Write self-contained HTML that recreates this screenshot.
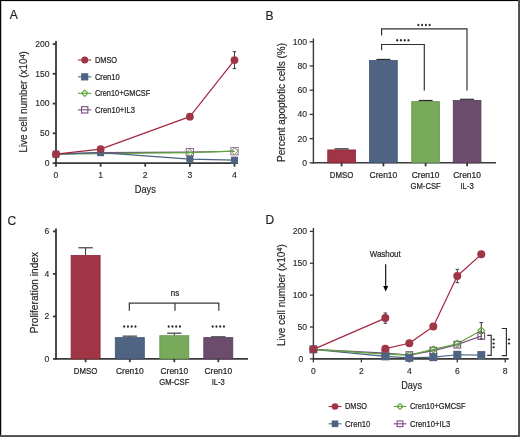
<!DOCTYPE html>
<html><head><meta charset="utf-8"><style>
html,body{margin:0;padding:0;background:#fff;}
svg{display:block;font-family:"Liberation Sans", sans-serif;will-change:transform;}
</style></head><body>
<svg width="520" height="437" viewBox="0 0 520 437">
<rect x="0" y="0" width="520" height="437" fill="#fff"/>
<text x="9.80" y="18.75" font-size="12" text-anchor="start" fill="#231f20" stroke="#231f20" stroke-width="0.18">A</text>
<line x1="56.00" y1="41.04" x2="56.00" y2="163.90" stroke="#383838" stroke-width="1.8"/>
<line x1="55.20" y1="163.10" x2="237.90" y2="163.10" stroke="#383838" stroke-width="1.8"/>
<line x1="52.70" y1="163.10" x2="56.00" y2="163.10" stroke="#383838" stroke-width="1.8"/>
<text x="49.60" y="166.00" font-size="8.6" text-anchor="end" fill="#231f20" stroke="#231f20" stroke-width="0.12">0</text>
<line x1="52.70" y1="133.33" x2="56.00" y2="133.33" stroke="#383838" stroke-width="1.8"/>
<text x="49.60" y="136.23" font-size="8.6" text-anchor="end" fill="#231f20" stroke="#231f20" stroke-width="0.12">50</text>
<line x1="52.70" y1="103.57" x2="56.00" y2="103.57" stroke="#383838" stroke-width="1.8"/>
<text x="49.60" y="106.47" font-size="8.6" text-anchor="end" fill="#231f20" stroke="#231f20" stroke-width="0.12">100</text>
<line x1="52.70" y1="73.80" x2="56.00" y2="73.80" stroke="#383838" stroke-width="1.8"/>
<text x="49.60" y="76.70" font-size="8.6" text-anchor="end" fill="#231f20" stroke="#231f20" stroke-width="0.12">150</text>
<line x1="52.70" y1="44.04" x2="56.00" y2="44.04" stroke="#383838" stroke-width="1.8"/>
<text x="49.60" y="46.94" font-size="8.6" text-anchor="end" fill="#231f20" stroke="#231f20" stroke-width="0.12">200</text>
<line x1="56.00" y1="163.10" x2="56.00" y2="166.70" stroke="#383838" stroke-width="1.8"/>
<text x="56.00" y="177.60" font-size="8.6" text-anchor="middle" fill="#231f20" stroke="#231f20" stroke-width="0.12">0</text>
<line x1="100.62" y1="163.10" x2="100.62" y2="166.70" stroke="#383838" stroke-width="1.8"/>
<text x="100.62" y="177.60" font-size="8.6" text-anchor="middle" fill="#231f20" stroke="#231f20" stroke-width="0.12">1</text>
<line x1="145.24" y1="163.10" x2="145.24" y2="166.70" stroke="#383838" stroke-width="1.8"/>
<text x="145.24" y="177.60" font-size="8.6" text-anchor="middle" fill="#231f20" stroke="#231f20" stroke-width="0.12">2</text>
<line x1="189.86" y1="163.10" x2="189.86" y2="166.70" stroke="#383838" stroke-width="1.8"/>
<text x="189.86" y="177.60" font-size="8.6" text-anchor="middle" fill="#231f20" stroke="#231f20" stroke-width="0.12">3</text>
<line x1="234.48" y1="163.10" x2="234.48" y2="166.70" stroke="#383838" stroke-width="1.8"/>
<text x="234.48" y="177.60" font-size="8.6" text-anchor="middle" fill="#231f20" stroke="#231f20" stroke-width="0.12">4</text>
<text x="134.80" y="192.60" font-size="10.6" text-anchor="start" fill="#231f20" stroke="#231f20" stroke-width="0.18" textLength="21.00" lengthAdjust="spacingAndGlyphs">Days</text>
<text x="27.10" y="152.60" font-size="10.8" text-anchor="start" fill="#231f20" stroke="#231f20" stroke-width="0.18" textLength="101.40" lengthAdjust="spacingAndGlyphs" transform="rotate(-90 27.10 152.60)">Live cell number (x10<tspan font-size="8" dy="-2.5">4</tspan><tspan dy="2.5">)</tspan></text>
<polyline points="56.00,154.17 100.62,152.62 189.86,152.15 234.48,151.25" fill="none" stroke="#7b4c80" stroke-width="1.2" stroke-linejoin="round"/>
<polyline points="56.00,154.17 100.62,153.58 189.86,152.62 234.48,151.19" fill="none" stroke="#5da83a" stroke-width="1.2" stroke-linejoin="round"/>
<polyline points="56.00,154.17 100.62,152.68 189.86,159.17 234.48,160.18" fill="none" stroke="#4a6384" stroke-width="1.2" stroke-linejoin="round"/>
<rect x="52.50" y="150.67" width="7.00" height="7.00" fill="#4f6383"/>
<rect x="97.12" y="149.18" width="7.00" height="7.00" fill="#4f6383"/>
<rect x="186.36" y="155.67" width="7.00" height="7.00" fill="#4f6383"/>
<rect x="230.98" y="156.68" width="7.00" height="7.00" fill="#4f6383"/>
<rect x="186.21" y="148.50" width="7.30" height="7.30" fill="none" stroke="#8a5c90" stroke-width="0.9"/>
<rect x="230.83" y="147.60" width="7.30" height="7.30" fill="none" stroke="#8a5c90" stroke-width="0.9"/>
<polygon points="189.86,149.12 193.36,152.62 189.86,156.12 186.36,152.62" fill="none" stroke="#5da83a" stroke-width="1.0"/>
<polygon points="234.48,147.69 237.98,151.19 234.48,154.69 230.98,151.19" fill="none" stroke="#5da83a" stroke-width="1.0"/>
<polyline points="56.00,154.17 100.62,149.11 189.86,116.67 234.48,60.11" fill="none" stroke="#a3283f" stroke-width="1.2" stroke-linejoin="round"/>
<line x1="234.48" y1="51.70" x2="234.48" y2="68.60" stroke="#383838" stroke-width="1.0"/>
<line x1="232.78" y1="51.70" x2="236.18" y2="51.70" stroke="#383838" stroke-width="1.0"/>
<line x1="232.78" y1="68.60" x2="236.18" y2="68.60" stroke="#383838" stroke-width="1.0"/>
<circle cx="56.00" cy="154.17" r="3.90" fill="#a03545"/>
<circle cx="100.62" cy="149.11" r="3.90" fill="#a03545"/>
<circle cx="189.86" cy="116.67" r="3.90" fill="#a03545"/>
<circle cx="234.48" cy="60.11" r="3.90" fill="#a03545"/>
<line x1="78.00" y1="60.00" x2="91.30" y2="60.00" stroke="#a3283f" stroke-width="1.1"/>
<circle cx="84.70" cy="60.00" r="3.50" fill="#a03545"/>
<text x="94.90" y="63.00" font-size="8.8" text-anchor="start" fill="#231f20" stroke="#231f20" stroke-width="0.22" textLength="22.20" lengthAdjust="spacingAndGlyphs">DMSO</text>
<line x1="78.00" y1="76.85" x2="91.30" y2="76.85" stroke="#4a6384" stroke-width="1.1"/>
<rect x="81.10" y="73.25" width="7.20" height="7.20" fill="#4f6383"/>
<text x="94.90" y="79.85" font-size="8.8" text-anchor="start" fill="#231f20" stroke="#231f20" stroke-width="0.22" textLength="24.90" lengthAdjust="spacingAndGlyphs">Cren10</text>
<line x1="78.00" y1="93.30" x2="91.30" y2="93.30" stroke="#5da83a" stroke-width="1.1"/>
<polygon points="84.70,90.15 87.85,93.30 84.70,96.45 81.55,93.30" fill="none" stroke="#5da83a" stroke-width="1.1"/>
<text x="94.90" y="96.30" font-size="8.8" text-anchor="start" fill="#231f20" stroke="#231f20" stroke-width="0.22" textLength="55.40" lengthAdjust="spacingAndGlyphs">Cren10+GMCSF</text>
<line x1="78.00" y1="109.85" x2="91.30" y2="109.85" stroke="#7b4c80" stroke-width="1.1"/>
<rect x="81.55" y="106.70" width="6.30" height="6.30" fill="none" stroke="#7b4c80" stroke-width="1.1"/>
<text x="94.90" y="112.85" font-size="8.8" text-anchor="start" fill="#231f20" stroke="#231f20" stroke-width="0.22" textLength="40.00" lengthAdjust="spacingAndGlyphs">Cren10+IL3</text>
<text x="265.50" y="19.50" font-size="12" text-anchor="start" fill="#231f20" stroke="#231f20" stroke-width="0.18">B</text>
<line x1="313.40" y1="38.45" x2="313.40" y2="163.55" stroke="#383838" stroke-width="1.4"/>
<line x1="312.70" y1="162.85" x2="496.00" y2="162.85" stroke="#383838" stroke-width="1.5"/>
<line x1="309.60" y1="162.85" x2="313.40" y2="162.85" stroke="#383838" stroke-width="1.3"/>
<text x="307.10" y="165.75" font-size="8.6" text-anchor="end" fill="#231f20" stroke="#231f20" stroke-width="0.12">0</text>
<line x1="309.60" y1="138.63" x2="313.40" y2="138.63" stroke="#383838" stroke-width="1.3"/>
<text x="307.10" y="141.53" font-size="8.6" text-anchor="end" fill="#231f20" stroke="#231f20" stroke-width="0.12">20</text>
<line x1="309.60" y1="114.41" x2="313.40" y2="114.41" stroke="#383838" stroke-width="1.3"/>
<text x="307.10" y="117.31" font-size="8.6" text-anchor="end" fill="#231f20" stroke="#231f20" stroke-width="0.12">40</text>
<line x1="309.60" y1="90.19" x2="313.40" y2="90.19" stroke="#383838" stroke-width="1.3"/>
<text x="307.10" y="93.09" font-size="8.6" text-anchor="end" fill="#231f20" stroke="#231f20" stroke-width="0.12">60</text>
<line x1="309.60" y1="65.97" x2="313.40" y2="65.97" stroke="#383838" stroke-width="1.3"/>
<text x="307.10" y="68.87" font-size="8.6" text-anchor="end" fill="#231f20" stroke="#231f20" stroke-width="0.12">80</text>
<line x1="309.60" y1="41.75" x2="313.40" y2="41.75" stroke="#383838" stroke-width="1.3"/>
<text x="307.10" y="44.65" font-size="8.6" text-anchor="end" fill="#231f20" stroke="#231f20" stroke-width="0.12">100</text>
<text x="285.20" y="161.90" font-size="10.8" text-anchor="start" fill="#231f20" stroke="#231f20" stroke-width="0.18" textLength="118.90" lengthAdjust="spacingAndGlyphs" transform="rotate(-90 285.20 161.90)">Percent apoptotic cells (%)</text>
<rect x="327.75" y="149.93" width="27.70" height="12.92" fill="#a03545" stroke="#8c2538" stroke-width="0.8"/>
<line x1="334.60" y1="148.83" x2="348.60" y2="148.83" stroke="#2a2a2a" stroke-width="1.2"/>
<line x1="341.60" y1="162.85" x2="341.60" y2="166.35" stroke="#383838" stroke-width="1.8"/>
<rect x="369.55" y="60.56" width="27.70" height="102.29" fill="#4f6383" stroke="#3f5273" stroke-width="0.8"/>
<line x1="376.40" y1="59.46" x2="390.40" y2="59.46" stroke="#2a2a2a" stroke-width="1.2"/>
<line x1="383.40" y1="162.85" x2="383.40" y2="166.35" stroke="#383838" stroke-width="1.8"/>
<rect x="411.75" y="101.61" width="27.70" height="61.24" fill="#79a95b" stroke="#62944a" stroke-width="0.8"/>
<line x1="418.60" y1="100.51" x2="432.60" y2="100.51" stroke="#2a2a2a" stroke-width="1.2"/>
<line x1="425.60" y1="162.85" x2="425.60" y2="166.35" stroke="#383838" stroke-width="1.8"/>
<rect x="453.25" y="100.40" width="27.70" height="62.45" fill="#6c4c6c" stroke="#5a3b5c" stroke-width="0.8"/>
<line x1="460.10" y1="99.30" x2="474.10" y2="99.30" stroke="#2a2a2a" stroke-width="1.2"/>
<line x1="467.10" y1="162.85" x2="467.10" y2="166.35" stroke="#383838" stroke-width="1.8"/>
<text x="341.60" y="177.90" font-size="8.8" text-anchor="middle" fill="#231f20" stroke="#231f20" stroke-width="0.22" textLength="23.50" lengthAdjust="spacingAndGlyphs">DMSO</text>
<text x="383.40" y="177.90" font-size="8.8" text-anchor="middle" fill="#231f20" stroke="#231f20" stroke-width="0.22" textLength="27.60" lengthAdjust="spacingAndGlyphs">Cren10</text>
<text x="425.60" y="177.90" font-size="8.8" text-anchor="middle" fill="#231f20" stroke="#231f20" stroke-width="0.22" textLength="27.60" lengthAdjust="spacingAndGlyphs">Cren10</text>
<text x="425.60" y="188.80" font-size="8.8" text-anchor="middle" fill="#231f20" stroke="#231f20" stroke-width="0.22" textLength="30.10" lengthAdjust="spacingAndGlyphs">GM-CSF</text>
<text x="467.10" y="177.90" font-size="8.8" text-anchor="middle" fill="#231f20" stroke="#231f20" stroke-width="0.22" textLength="27.60" lengthAdjust="spacingAndGlyphs">Cren10</text>
<text x="467.10" y="188.80" font-size="8.8" text-anchor="middle" fill="#231f20" stroke="#231f20" stroke-width="0.22" textLength="13.40" lengthAdjust="spacingAndGlyphs">IL-3</text>
<polyline points="381.6,35.6 381.6,28.8 467,28.8 467,90.4" fill="none" stroke="#2e2e2e" stroke-width="1.15"/>
<polyline points="381.6,50.2 381.6,44.5 424.3,44.5 424.3,90.4" fill="none" stroke="#2e2e2e" stroke-width="1.15"/>
<ellipse cx="418.36" cy="24.90" rx="1.0" ry="1.25" fill="#2a2a2a"/>
<ellipse cx="422.12" cy="24.90" rx="1.0" ry="1.25" fill="#2a2a2a"/>
<ellipse cx="425.88" cy="24.90" rx="1.0" ry="1.25" fill="#2a2a2a"/>
<ellipse cx="429.64" cy="24.90" rx="1.0" ry="1.25" fill="#2a2a2a"/>
<ellipse cx="397.16" cy="40.30" rx="1.0" ry="1.25" fill="#2a2a2a"/>
<ellipse cx="400.92" cy="40.30" rx="1.0" ry="1.25" fill="#2a2a2a"/>
<ellipse cx="404.68" cy="40.30" rx="1.0" ry="1.25" fill="#2a2a2a"/>
<ellipse cx="408.44" cy="40.30" rx="1.0" ry="1.25" fill="#2a2a2a"/>
<text x="7.50" y="224.50" font-size="12" text-anchor="start" fill="#231f20" stroke="#231f20" stroke-width="0.18">C</text>
<line x1="56.00" y1="228.40" x2="56.00" y2="359.70" stroke="#383838" stroke-width="1.8"/>
<line x1="55.40" y1="358.90" x2="248.00" y2="358.90" stroke="#383838" stroke-width="1.8"/>
<line x1="53.00" y1="358.90" x2="56.00" y2="358.90" stroke="#383838" stroke-width="1.8"/>
<text x="49.30" y="361.90" font-size="8.6" text-anchor="end" fill="#231f20" stroke="#231f20" stroke-width="0.12">0</text>
<line x1="53.00" y1="316.40" x2="56.00" y2="316.40" stroke="#383838" stroke-width="1.8"/>
<text x="49.30" y="319.40" font-size="8.6" text-anchor="end" fill="#231f20" stroke="#231f20" stroke-width="0.12">2</text>
<line x1="53.00" y1="273.90" x2="56.00" y2="273.90" stroke="#383838" stroke-width="1.8"/>
<text x="49.30" y="276.90" font-size="8.6" text-anchor="end" fill="#231f20" stroke="#231f20" stroke-width="0.12">4</text>
<line x1="53.00" y1="231.40" x2="56.00" y2="231.40" stroke="#383838" stroke-width="1.8"/>
<text x="49.30" y="234.40" font-size="8.6" text-anchor="end" fill="#231f20" stroke="#231f20" stroke-width="0.12">6</text>
<text x="37.80" y="333.30" font-size="10" text-anchor="start" fill="#231f20" stroke="#231f20" stroke-width="0.18" textLength="81.40" lengthAdjust="spacingAndGlyphs" transform="rotate(-90 37.80 333.30)">Proliferation index</text>
<rect x="71.10" y="255.39" width="29.00" height="103.51" fill="#a03545" stroke="#8c2538" stroke-width="0.8"/>
<line x1="85.60" y1="247.76" x2="85.60" y2="254.99" stroke="#2a2a2a" stroke-width="1.0"/>
<line x1="78.40" y1="247.76" x2="92.80" y2="247.76" stroke="#4a4a4a" stroke-width="1.3"/>
<line x1="85.60" y1="358.90" x2="85.60" y2="362.20" stroke="#383838" stroke-width="1.8"/>
<rect x="115.30" y="337.62" width="29.00" height="21.28" fill="#4f6383" stroke="#3f5273" stroke-width="0.8"/>
<line x1="129.80" y1="336.16" x2="129.80" y2="337.22" stroke="#2a2a2a" stroke-width="1.0"/>
<line x1="122.60" y1="336.16" x2="137.00" y2="336.16" stroke="#4a4a4a" stroke-width="1.3"/>
<line x1="129.80" y1="358.90" x2="129.80" y2="362.20" stroke="#383838" stroke-width="1.8"/>
<rect x="159.80" y="335.71" width="29.00" height="23.19" fill="#79a95b" stroke="#62944a" stroke-width="0.8"/>
<line x1="174.30" y1="333.19" x2="174.30" y2="335.31" stroke="#2a2a2a" stroke-width="1.0"/>
<line x1="167.10" y1="333.19" x2="181.50" y2="333.19" stroke="#4a4a4a" stroke-width="1.3"/>
<line x1="174.30" y1="358.90" x2="174.30" y2="362.20" stroke="#383838" stroke-width="1.8"/>
<rect x="203.80" y="337.62" width="29.00" height="21.28" fill="#6c4c6c" stroke="#5a3b5c" stroke-width="0.8"/>
<line x1="218.30" y1="336.80" x2="218.30" y2="337.22" stroke="#2a2a2a" stroke-width="1.0"/>
<line x1="211.10" y1="336.80" x2="225.50" y2="336.80" stroke="#4a4a4a" stroke-width="1.3"/>
<line x1="218.30" y1="358.90" x2="218.30" y2="362.20" stroke="#383838" stroke-width="1.8"/>
<text x="85.60" y="373.70" font-size="8.8" text-anchor="middle" fill="#231f20" stroke="#231f20" stroke-width="0.22" textLength="23.50" lengthAdjust="spacingAndGlyphs">DMSO</text>
<text x="129.80" y="373.70" font-size="8.8" text-anchor="middle" fill="#231f20" stroke="#231f20" stroke-width="0.22" textLength="27.60" lengthAdjust="spacingAndGlyphs">Cren10</text>
<text x="174.30" y="373.70" font-size="8.8" text-anchor="middle" fill="#231f20" stroke="#231f20" stroke-width="0.22" textLength="27.60" lengthAdjust="spacingAndGlyphs">Cren10</text>
<text x="174.30" y="384.60" font-size="8.8" text-anchor="middle" fill="#231f20" stroke="#231f20" stroke-width="0.22" textLength="30.20" lengthAdjust="spacingAndGlyphs">GM-CSF</text>
<text x="218.30" y="373.70" font-size="8.8" text-anchor="middle" fill="#231f20" stroke="#231f20" stroke-width="0.22" textLength="27.60" lengthAdjust="spacingAndGlyphs">Cren10</text>
<text x="218.30" y="384.60" font-size="8.8" text-anchor="middle" fill="#231f20" stroke="#231f20" stroke-width="0.22" textLength="13.10" lengthAdjust="spacingAndGlyphs">IL-3</text>
<polyline points="129.3,310.8 129.3,303.2 218.8,303.2 218.8,310.8" fill="none" stroke="#383838" stroke-width="1.2"/>
<line x1="175.00" y1="303.20" x2="175.00" y2="310.80" stroke="#383838" stroke-width="1.2"/>
<text x="175.00" y="295.80" font-size="8.8" text-anchor="middle" fill="#231f20" stroke="#231f20" stroke-width="0.22" textLength="8.40" lengthAdjust="spacingAndGlyphs">ns</text>
<ellipse cx="124.16" cy="326.50" rx="1.0" ry="1.25" fill="#2a2a2a"/>
<ellipse cx="127.92" cy="326.50" rx="1.0" ry="1.25" fill="#2a2a2a"/>
<ellipse cx="131.68" cy="326.50" rx="1.0" ry="1.25" fill="#2a2a2a"/>
<ellipse cx="135.44" cy="326.50" rx="1.0" ry="1.25" fill="#2a2a2a"/>
<ellipse cx="168.66" cy="326.50" rx="1.0" ry="1.25" fill="#2a2a2a"/>
<ellipse cx="172.42" cy="326.50" rx="1.0" ry="1.25" fill="#2a2a2a"/>
<ellipse cx="176.18" cy="326.50" rx="1.0" ry="1.25" fill="#2a2a2a"/>
<ellipse cx="179.94" cy="326.50" rx="1.0" ry="1.25" fill="#2a2a2a"/>
<ellipse cx="212.66" cy="326.50" rx="1.0" ry="1.25" fill="#2a2a2a"/>
<ellipse cx="216.42" cy="326.50" rx="1.0" ry="1.25" fill="#2a2a2a"/>
<ellipse cx="220.18" cy="326.50" rx="1.0" ry="1.25" fill="#2a2a2a"/>
<ellipse cx="223.94" cy="326.50" rx="1.0" ry="1.25" fill="#2a2a2a"/>
<text x="265.50" y="224.30" font-size="12" text-anchor="start" fill="#231f20" stroke="#231f20" stroke-width="0.18">D</text>
<line x1="313.40" y1="228.00" x2="313.40" y2="359.60" stroke="#383838" stroke-width="1.4"/>
<line x1="312.70" y1="358.90" x2="508.70" y2="358.90" stroke="#383838" stroke-width="1.6"/>
<line x1="309.90" y1="358.90" x2="313.40" y2="358.90" stroke="#383838" stroke-width="1.3"/>
<text x="303.40" y="361.80" font-size="8.6" text-anchor="end" fill="#231f20" stroke="#231f20" stroke-width="0.12">0</text>
<line x1="309.90" y1="327.02" x2="313.40" y2="327.02" stroke="#383838" stroke-width="1.3"/>
<text x="307.10" y="329.92" font-size="8.6" text-anchor="end" fill="#231f20" stroke="#231f20" stroke-width="0.12">50</text>
<line x1="309.90" y1="295.15" x2="313.40" y2="295.15" stroke="#383838" stroke-width="1.3"/>
<text x="307.10" y="298.05" font-size="8.6" text-anchor="end" fill="#231f20" stroke="#231f20" stroke-width="0.12">100</text>
<line x1="309.90" y1="263.27" x2="313.40" y2="263.27" stroke="#383838" stroke-width="1.3"/>
<text x="307.10" y="266.17" font-size="8.6" text-anchor="end" fill="#231f20" stroke="#231f20" stroke-width="0.12">150</text>
<line x1="309.90" y1="231.40" x2="313.40" y2="231.40" stroke="#383838" stroke-width="1.3"/>
<text x="307.10" y="234.30" font-size="8.6" text-anchor="end" fill="#231f20" stroke="#231f20" stroke-width="0.12">200</text>
<line x1="313.40" y1="358.90" x2="313.40" y2="362.40" stroke="#383838" stroke-width="1.3"/>
<text x="313.40" y="373.60" font-size="8.6" text-anchor="middle" fill="#231f20" stroke="#231f20" stroke-width="0.12">0</text>
<line x1="361.36" y1="358.90" x2="361.36" y2="362.40" stroke="#383838" stroke-width="1.3"/>
<text x="361.36" y="373.60" font-size="8.6" text-anchor="middle" fill="#231f20" stroke="#231f20" stroke-width="0.12">2</text>
<line x1="409.32" y1="358.90" x2="409.32" y2="362.40" stroke="#383838" stroke-width="1.3"/>
<text x="409.32" y="373.60" font-size="8.6" text-anchor="middle" fill="#231f20" stroke="#231f20" stroke-width="0.12">4</text>
<line x1="457.28" y1="358.90" x2="457.28" y2="362.40" stroke="#383838" stroke-width="1.3"/>
<text x="457.28" y="373.60" font-size="8.6" text-anchor="middle" fill="#231f20" stroke="#231f20" stroke-width="0.12">6</text>
<line x1="505.24" y1="358.90" x2="505.24" y2="362.40" stroke="#383838" stroke-width="1.3"/>
<text x="505.24" y="373.60" font-size="8.6" text-anchor="middle" fill="#231f20" stroke="#231f20" stroke-width="0.12">8</text>
<text x="401.20" y="388.80" font-size="10.6" text-anchor="start" fill="#231f20" stroke="#231f20" stroke-width="0.18" textLength="20.80" lengthAdjust="spacingAndGlyphs">Days</text>
<text x="284.80" y="346.00" font-size="10.8" text-anchor="start" fill="#231f20" stroke="#231f20" stroke-width="0.18" textLength="101.80" lengthAdjust="spacingAndGlyphs" transform="rotate(-90 284.80 346.00)">Live cell number (x10<tspan font-size="8" dy="-2.5">4</tspan><tspan dy="2.5">)</tspan></text>
<text x="369.70" y="256.90" font-size="8.8" text-anchor="start" fill="#231f20" stroke="#231f20" stroke-width="0.22" textLength="31.00" lengthAdjust="spacingAndGlyphs">Washout</text>
<line x1="385.70" y1="264.30" x2="385.70" y2="287.00" stroke="#000" stroke-width="1.1"/>
<polygon points="383.2,286 388.2,286 385.7,291.5" fill="#000"/>
<polyline points="313.40,349.34 385.34,356.35 409.32,357.82 433.30,357.18 457.28,354.76 481.26,355.07" fill="none" stroke="#4a6384" stroke-width="1.2" stroke-linejoin="round"/>
<polyline points="313.40,349.34 385.34,353.16 409.32,355.07 433.30,350.61 457.28,344.68 481.26,335.95" fill="none" stroke="#7b4c80" stroke-width="1.2" stroke-linejoin="round"/>
<polyline points="313.40,349.34 385.34,354.12 409.32,355.07 433.30,349.40 457.28,343.73 481.26,330.53" fill="none" stroke="#5da83a" stroke-width="1.2" stroke-linejoin="round"/>
<rect x="381.99" y="349.81" width="6.70" height="6.70" fill="none" stroke="#7b4c80" stroke-width="1.1"/>
<rect x="405.97" y="351.73" width="6.70" height="6.70" fill="none" stroke="#7b4c80" stroke-width="1.1"/>
<rect x="429.95" y="347.26" width="6.70" height="6.70" fill="none" stroke="#7b4c80" stroke-width="1.1"/>
<rect x="453.93" y="341.33" width="6.70" height="6.70" fill="none" stroke="#7b4c80" stroke-width="1.1"/>
<rect x="477.91" y="332.60" width="6.70" height="6.70" fill="none" stroke="#7b4c80" stroke-width="1.1"/>
<line x1="481.26" y1="322.60" x2="481.26" y2="333.53" stroke="#383838" stroke-width="1.0"/>
<line x1="479.46" y1="322.60" x2="483.06" y2="322.60" stroke="#383838" stroke-width="1.0"/>
<line x1="479.46" y1="333.53" x2="483.06" y2="333.53" stroke="#383838" stroke-width="1.0"/>
<line x1="481.26" y1="332.95" x2="481.26" y2="338.95" stroke="#383838" stroke-width="1.0"/>
<line x1="479.76" y1="332.95" x2="482.76" y2="332.95" stroke="#383838" stroke-width="1.0"/>
<line x1="479.76" y1="338.95" x2="482.76" y2="338.95" stroke="#383838" stroke-width="1.0"/>
<polygon points="385.34,350.67 388.79,354.12 385.34,357.57 381.89,354.12" fill="none" stroke="#5da83a" stroke-width="1.1"/>
<polygon points="409.32,351.62 412.77,355.07 409.32,358.52 405.87,355.07" fill="none" stroke="#5da83a" stroke-width="1.1"/>
<polygon points="433.30,345.95 436.75,349.40 433.30,352.85 429.85,349.40" fill="none" stroke="#5da83a" stroke-width="1.1"/>
<polygon points="457.28,340.28 460.73,343.73 457.28,347.18 453.83,343.73" fill="none" stroke="#5da83a" stroke-width="1.1"/>
<polygon points="481.26,327.08 484.71,330.53 481.26,333.98 477.81,330.53" fill="none" stroke="#5da83a" stroke-width="1.1"/>
<rect x="309.40" y="345.34" width="8.00" height="8.00" fill="#4f6383"/>
<rect x="381.34" y="352.35" width="8.00" height="8.00" fill="#4f6383"/>
<rect x="405.32" y="353.82" width="8.00" height="8.00" fill="#4f6383"/>
<rect x="429.30" y="353.18" width="8.00" height="8.00" fill="#4f6383"/>
<rect x="453.28" y="350.76" width="8.00" height="8.00" fill="#4f6383"/>
<rect x="477.26" y="351.07" width="8.00" height="8.00" fill="#4f6383"/>
<polyline points="313.40,349.34 385.34,318.10" fill="none" stroke="#a3283f" stroke-width="1.2" stroke-linejoin="round"/>
<polyline points="385.34,348.70 409.32,343.28 433.30,326.39 457.28,276.02 481.26,254.35" fill="none" stroke="#a3283f" stroke-width="1.2" stroke-linejoin="round"/>
<line x1="385.34" y1="313.00" x2="385.34" y2="323.30" stroke="#383838" stroke-width="1.0"/>
<line x1="383.64" y1="313.00" x2="387.04" y2="313.00" stroke="#383838" stroke-width="1.0"/>
<line x1="383.64" y1="323.30" x2="387.04" y2="323.30" stroke="#383838" stroke-width="1.0"/>
<line x1="457.28" y1="269.30" x2="457.28" y2="282.70" stroke="#383838" stroke-width="1.0"/>
<line x1="455.58" y1="269.30" x2="458.98" y2="269.30" stroke="#383838" stroke-width="1.0"/>
<line x1="455.58" y1="282.70" x2="458.98" y2="282.70" stroke="#383838" stroke-width="1.0"/>
<circle cx="313.40" cy="349.34" r="4.00" fill="#a03545"/>
<circle cx="385.34" cy="318.10" r="4.00" fill="#a03545"/>
<circle cx="385.34" cy="348.70" r="4.00" fill="#a03545"/>
<circle cx="409.32" cy="343.28" r="4.00" fill="#a03545"/>
<circle cx="433.30" cy="326.39" r="4.00" fill="#a03545"/>
<circle cx="457.28" cy="276.02" r="4.00" fill="#a03545"/>
<circle cx="481.26" cy="254.35" r="4.00" fill="#a03545"/>
<polyline points="487.2,335.4 491.2,335.4 491.2,355.3 487.2,355.3" fill="none" stroke="#2e2e2e" stroke-width="1.15"/>
<polyline points="501.8,328.5 506.4,328.5 506.4,355.6 501.8,355.6" fill="none" stroke="#2e2e2e" stroke-width="1.15"/>
<ellipse cx="493.60" cy="339.55" rx="1.25" ry="1.0" fill="#2a2a2a"/>
<ellipse cx="493.60" cy="343.40" rx="1.25" ry="1.0" fill="#2a2a2a"/>
<ellipse cx="493.60" cy="347.25" rx="1.25" ry="1.0" fill="#2a2a2a"/>
<ellipse cx="509.00" cy="339.60" rx="1.25" ry="1.0" fill="#2a2a2a"/>
<ellipse cx="509.00" cy="343.60" rx="1.25" ry="1.0" fill="#2a2a2a"/>
<line x1="328.70" y1="406.50" x2="341.50" y2="406.50" stroke="#a3283f" stroke-width="1.1"/>
<circle cx="335.00" cy="406.50" r="3.30" fill="#a03545"/>
<text x="345.00" y="409.30" font-size="8.8" text-anchor="start" fill="#231f20" stroke="#231f20" stroke-width="0.22" textLength="22.10" lengthAdjust="spacingAndGlyphs">DMSO</text>
<line x1="328.70" y1="423.80" x2="341.50" y2="423.80" stroke="#4a6384" stroke-width="1.1"/>
<rect x="331.70" y="420.50" width="6.60" height="6.60" fill="#4f6383"/>
<text x="345.00" y="426.60" font-size="8.8" text-anchor="start" fill="#231f20" stroke="#231f20" stroke-width="0.22" textLength="25.40" lengthAdjust="spacingAndGlyphs">Cren10</text>
<line x1="393.70" y1="406.50" x2="406.50" y2="406.50" stroke="#5da83a" stroke-width="1.1"/>
<polygon points="400.00,403.45 403.05,406.50 400.00,409.55 396.95,406.50" fill="none" stroke="#5da83a" stroke-width="1.1"/>
<text x="410.00" y="409.30" font-size="8.8" text-anchor="start" fill="#231f20" stroke="#231f20" stroke-width="0.22" textLength="55.60" lengthAdjust="spacingAndGlyphs">Cren10+GMCSF</text>
<line x1="393.70" y1="423.80" x2="406.50" y2="423.80" stroke="#7b4c80" stroke-width="1.1"/>
<rect x="397.15" y="420.95" width="5.70" height="5.70" fill="none" stroke="#7b4c80" stroke-width="1.1"/>
<text x="410.00" y="426.60" font-size="8.8" text-anchor="start" fill="#231f20" stroke="#231f20" stroke-width="0.22" textLength="40.20" lengthAdjust="spacingAndGlyphs">Cren10+IL3</text>
<rect x="0" y="1" width="518" height="1" fill="#e4e4e4"/>
<rect x="1" y="0" width="1" height="435" fill="#c8c8c8"/>
<rect x="0" y="0" width="520" height="1" fill="#000"/>
<rect x="0" y="0" width="1" height="437" fill="#000"/>
<rect x="518" y="0" width="1" height="437" fill="#585858"/>
<rect x="519" y="0" width="1" height="437" fill="#4d4d4d"/>
<rect x="0" y="435" width="518" height="1" fill="#5c5c5c"/>
<rect x="0" y="436" width="518" height="1" fill="#4d4d4d"/>
</svg>
</body></html>
